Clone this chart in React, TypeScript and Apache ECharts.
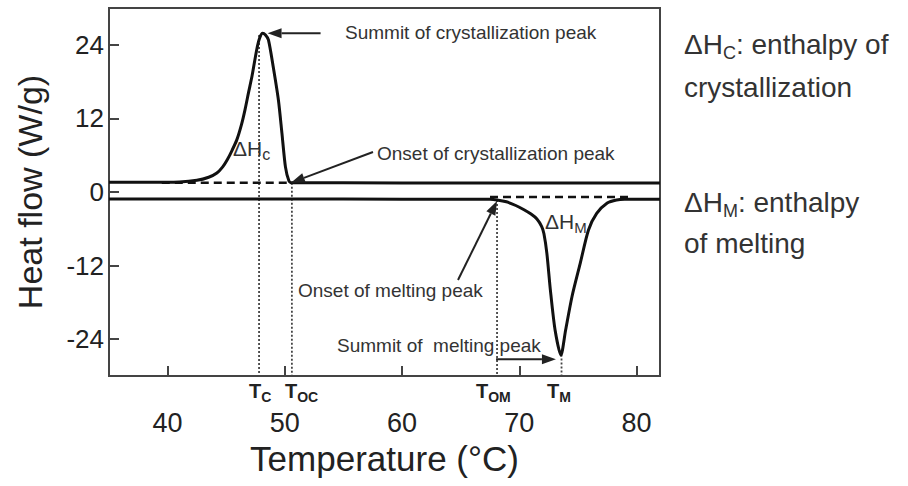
import React, { useEffect, useRef } from "react";
import * as echarts from "echarts";

// ---- data ----
const xTicks = [40, 50, 60, 70, 80];
const yTicks = [-24, -12, 0, 12, 24];

const crystX = [35, 38, 41, 42.5, 43.5, 44.2, 44.7, 45.1, 45.5, 45.9, 46.3, 46.6, 46.9, 47.2, 47.6, 47.85, 48.1, 48.35, 48.6, 49.0, 49.45, 49.75, 50.05, 50.35, 50.6, 55, 65, 82];
const crystY = [1.6, 1.6, 1.65, 1.9, 2.4, 3.1, 4.1, 5.3, 6.8, 8.5, 11, 13.4, 16.2, 18.9, 23.2, 25.1, 25.9, 25.6, 24.8, 20.5, 15, 9.6, 4.1, 1.8, 1.5, 1.5, 1.45, 1.45];

const meltX = [35, 45, 55, 65, 67.5, 68.1, 68.9, 69.7, 70.4, 71.0, 71.5, 71.9, 72.1, 72.35, 72.65, 73.05, 73.55, 73.95, 74.5, 75.2, 75.9, 76.6, 77.5, 78.3, 79, 82];
const meltY = [-1.15, -1.15, -1.15, -1.2, -1.2, -1.3, -1.6, -2.2, -2.9, -3.6, -4.4, -5.6, -6.8, -10, -16, -22.5, -26.6, -22.5, -17, -11.6, -6.2, -3.5, -1.8, -1.3, -1.2, -1.2];

const crystBaseX = [39.5, 50.6];
const crystBaseY = [1.5, 1.5];
const meltBaseX = [67.5, 79.3];
const meltBaseY = [-0.8, -0.8];

const markerNames = ["C", "OC", "OM", "M"];
const markerX = [47.8, 50.6, 68.1, 73.6];
const markerTopY = [25.6, 1.5, -1.3, -26.5];

const crystPeak = [48.1, 25.9];
const crystOnset = [50.6, 1.5];
const meltOnset = [68.1, -1.3];
const meltPeak = [73.55, -26.6];

const FONT = '"Liberation Sans", Arial, Helvetica, sans-serif';
const TXT = "#222";
const ANN = "#333";

function zip(xs: number[], ys: number[]) {
  return xs.map((x, i) => [x, ys[i]]);
}

export default function App() {
  const ref = useRef<HTMLDivElement>(null);

  useEffect(() => {
    if (!ref.current) return;
    const chart = echarts.init(ref.current, null, { renderer: "svg" });

    const lineSeries = (name: string, data: number[][], style: any, z = 3) => ({
      name,
      type: "line",
      data,
      showSymbol: false,
      symbol: "none",
      z,
      lineStyle: style,
      silent: true,
    });

    const option: any = {
      animation: false,
      backgroundColor: "#fff",
      grid: {
        left: 109,
        right: 248,
        top: 8,
        bottom: 110,
        show: true,
        borderColor: "#444",
        borderWidth: 2,
        backgroundColor: "transparent",
      },
      xAxis: {
        type: "value",
        min: 35,
        max: 82,
        name: "Temperature (°C)",
        nameLocation: "middle",
        nameGap: 65,
        nameTextStyle: { fontSize: 35, color: TXT, fontFamily: FONT },
        axisLine: { show: true, onZero: false, lineStyle: { color: "#444", width: 2 } },
        axisTick: { show: true, inside: true, length: 10, customValues: xTicks, lineStyle: { color: "#444", width: 2 } },
        axisLabel: { customValues: xTicks, fontSize: 27, color: TXT, margin: 33, fontFamily: FONT },
        splitLine: { show: false },
      },
      yAxis: {
        type: "value",
        min: -30,
        max: 30,
        name: "Heat flow (W/g)",
        nameLocation: "middle",
        nameRotate: 90,
        nameGap: 62,
        nameTextStyle: { fontSize: 34, color: TXT, fontFamily: FONT },
        axisLine: { show: true, onZero: false, lineStyle: { color: "#444", width: 2 } },
        axisTick: { show: true, inside: true, length: 10, customValues: yTicks, lineStyle: { color: "#444", width: 2 } },
        axisLabel: { customValues: yTicks, fontSize: 26, color: TXT, margin: 5, fontFamily: FONT },
        splitLine: { show: false },
      },
      series: [
        lineSeries("crystallization", zip(crystX, crystY), { color: "#111", width: 3 }, 5),
        lineSeries("melting", zip(meltX, meltY), { color: "#111", width: 3 }, 5),
        lineSeries("crystBase", zip(crystBaseX, crystBaseY), { color: "#111", width: 2.5, type: [8, 5] }, 4),
        lineSeries("meltBase", zip(meltBaseX, meltBaseY), { color: "#111", width: 2.5, type: [8, 5] }, 4),
        ...markerX.map((x, i) =>
          lineSeries("T" + markerNames[i], [[x, markerTopY[i]], [x, -30]], { color: "#444", width: 1.8, type: [2, 2] }, 3)
        ),
      ],
    };
    option.series[0].smooth = 0.25;
    option.series[1].smooth = 0.25;

    chart.setOption(option);

    const px = (p: number[]) => chart.convertToPixel({ gridIndex: 0 }, p) as number[];

    const arrow = (tail: number[], tip: number[], head = 14, half = 5) => {
      const dx = tip[0] - tail[0];
      const dy = tip[1] - tail[1];
      const len = Math.sqrt(dx * dx + dy * dy);
      const ux = dx / len;
      const uy = dy / len;
      const bx = tip[0] - ux * head;
      const by = tip[1] - uy * head;
      return [
        { type: "line", shape: { x1: tail[0], y1: tail[1], x2: bx, y2: by }, style: { stroke: "#222", lineWidth: 2 }, z: 10 },
        {
          type: "polygon",
          shape: { points: [[tip[0], tip[1]], [bx - uy * half, by + ux * half], [bx + uy * half, by - ux * half]] },
          style: { fill: "#222" },
          z: 10,
        },
      ];
    };

    const pPeakC = px(crystPeak);
    const pOnsetC = px(crystOnset);
    const pOnsetM = px(meltOnset);
    const pPeakM = px(meltPeak);
    const pTom = px([markerX[2], -30]);

    const ann = (text: string, x: number, y: number) => ({
      type: "text",
      x,
      y,
      z: 10,
      style: { text, fontSize: 19, fill: ANN, fontFamily: FONT, verticalAlign: "middle", align: "left" },
    });

    const subText = (
      parts: string,
      x: number,
      yCenter: number,
      fs: number,
      sfs: number,
      pad: number,
      bold: boolean,
      color: string
    ) => {
      const mainLH = Math.round(fs * 1.15);
      return {
        type: "text",
        x,
        y: yCenter - mainLH / 2,
        z: 10,
        style: {
          text: parts,
          fill: color,
          fontFamily: FONT,
          fontSize: fs,
          fontWeight: bold ? "bold" : "normal",
          verticalAlign: "top",
          align: "left",
          rich: {
            m: { fontSize: fs, lineHeight: mainLH, verticalAlign: "top", fontFamily: FONT, fontWeight: bold ? "bold" : "normal", color },
            s: {
              fontSize: sfs,
              lineHeight: Math.round(sfs * 0.9),
              padding: [pad, 0, 0, 0],
              verticalAlign: "bottom",
              fontFamily: FONT,
              fontWeight: bold ? "bold" : "normal",
              color,
            },
          },
        },
      };
    };

    const tLabelLeft = [249, 285, 476, 547];
    const graphics: any[] = [
      ...arrow([pPeakC[0] + 58, pPeakC[1]], [pPeakC[0] + 5, pPeakC[1]]),
      ...arrow([373, 152], [pOnsetC[0] - 1, pOnsetC[1]]),
      ...arrow([458, 280], [pOnsetM[0], pOnsetM[1] + 1]),
      ...arrow([pTom[0] - 1, pPeakM[1] + 4], [pPeakM[0] - 5, pPeakM[1] + 4]),
      ann("Summit of crystallization peak", 345, 32),
      ann("Onset of crystallization peak", 377, 153),
      ann("Onset of melting peak", 298, 290),
      ann("Summit of  melting peak", 337, 345),
      subText("{m|ΔH}{s|c}", 233, 150, 21, 16, 12, false, ANN),
      subText("{m|ΔH}{s|M}", 545, 223, 21, 15, 12, false, ANN),
      ...markerNames.map((n, i) => subText("{m|T}{s|" + n + "}", tLabelLeft[i], 392, 20, 14, 5, true, TXT)),
      subText("{m|ΔH}{s|C}{m|: enthalpy of}", 684, 46, 28, 18, 20, false, ANN),
      { type: "text", x: 684, y: 87, z: 10, style: { text: "crystallization", fontSize: 28, fill: ANN, fontFamily: FONT, verticalAlign: "middle" } },
      subText("{m|ΔH}{s|M}{m|: enthalpy}", 684, 204, 28, 18, 20, false, ANN),
      { type: "text", x: 684, y: 243, z: 10, style: { text: "of melting", fontSize: 28, fill: ANN, fontFamily: FONT, verticalAlign: "middle" } },
    ];

    chart.setOption({ graphic: graphics });

    return () => chart.dispose();
  }, []);

  return <div ref={ref} style={{ width: 908, height: 486, position: "absolute", left: 0, top: 0 }} />;
}
